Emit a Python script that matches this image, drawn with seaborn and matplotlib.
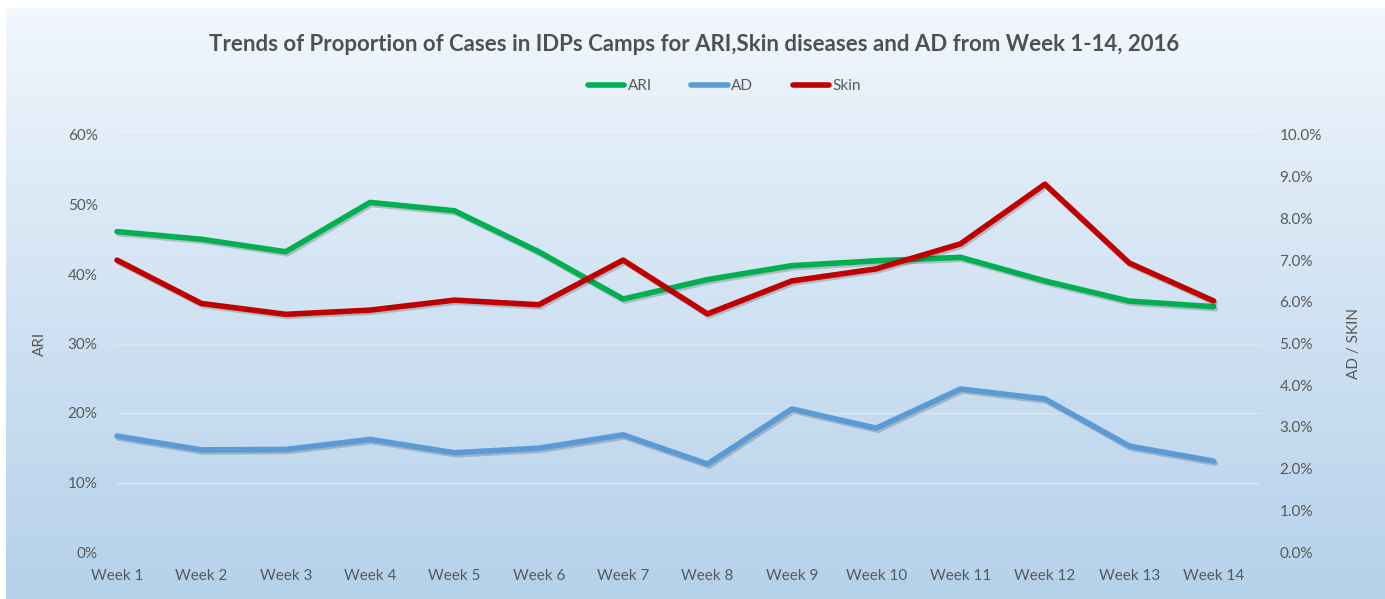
import matplotlib
matplotlib.use('Agg')
import matplotlib.pyplot as plt
import matplotlib.patheffects as pe
from matplotlib.ticker import PercentFormatter
from matplotlib.lines import Line2D
import numpy as np
import pandas as pd
import seaborn as sns

# data
weeks = ['Week 1', 'Week 2', 'Week 3', 'Week 4', 'Week 5', 'Week 6', 'Week 7',
         'Week 8', 'Week 9', 'Week 10', 'Week 11', 'Week 12', 'Week 13', 'Week 14']
ari = [46.1, 45.0, 43.2, 50.3, 49.1, 43.2, 36.4, 39.2, 41.2, 41.9, 42.4, 39.0, 36.1, 35.3]
ad = [2.78, 2.45, 2.46, 2.70, 2.38, 2.49, 2.81, 2.11, 3.43, 2.97, 3.91, 3.67, 2.54, 2.18]
skin = [7.00, 5.96, 5.70, 5.80, 6.04, 5.93, 7.00, 5.71, 6.50, 6.79, 7.39, 8.82, 6.93, 6.02]

df = pd.DataFrame({'Week': weeks, 'ARI': ari, 'AD': ad, 'Skin': skin})

GREEN = '#00b050'
BLUE = '#5b9bd5'
RED = '#c00000'
GREY = '#595959'

sns.set_style('white')
plt.rcParams['font.family'] = ['Lato', 'DejaVu Sans']

fig = plt.figure(figsize=(13.85, 5.99), dpi=100)

# gradient background
bg = fig.add_axes([0.004, 0, 0.996, 1 - 8 / 599], zorder=-5)
grad = np.linspace(0, 1, 256).reshape(-1, 1)
top = np.array([0.95, 0.97, 0.99])
bottom = np.array([0.71, 0.82, 0.92])
img = top + (bottom - top) * grad[..., None] ** 0.9
bg.imshow(img, aspect='auto', extent=[0, 1, 0, 1], origin='upper')
bg.axis('off')

ax = fig.add_axes([117 / 1385, 1 - 552 / 599, (1260 - 117) / 1385, (552 - 135) / 599])
ax.set_facecolor('none')
ax2 = ax.twinx()

shadow = [pe.SimpleLineShadow(offset=(1.2, -1.5), alpha=0.18), pe.Normal()]

sns.lineplot(data=df, x='Week', y='ARI', ax=ax, color=GREEN, lw=4, sort=False,
             solid_capstyle='round', path_effects=shadow, clip_on=False)
sns.lineplot(data=df, x='Week', y='AD', ax=ax2, color=BLUE, lw=4, sort=False,
             solid_capstyle='round', path_effects=shadow, clip_on=False)
sns.lineplot(data=df, x='Week', y='Skin', ax=ax2, color=RED, lw=4, sort=False,
             solid_capstyle='round', path_effects=shadow, clip_on=False)

ax.set_xlim(0, 13.55)
ax.set_ylim(0, 60)
ax2.set_ylim(0, 10)
ax.set_yticks(np.arange(0, 61, 10))
ax2.set_yticks(np.arange(0, 10.1, 1))
ax.yaxis.set_major_formatter(PercentFormatter(decimals=0))
ax2.yaxis.set_major_formatter(PercentFormatter(decimals=1))

ax.grid(axis='y', color='#dde6f0', lw=1)
ax.set_axisbelow(True)
for a in (ax, ax2):
    for s in a.spines.values():
        s.set_visible(False)
    a.tick_params(length=0, labelsize=11, labelcolor=GREY)
ax.tick_params(axis='y', pad=14)
ax2.tick_params(axis='y', pad=14)
ax.tick_params(axis='x', pad=12)

ax.set_xlabel('')
ax.set_ylabel('ARI', color=GREY, fontsize=11)
ax2.set_ylabel('AD / SKIN', color=GREY, fontsize=11, rotation=90)
ax.yaxis.set_label_coords(-0.061, 0.5)
ax2.yaxis.set_label_coords(1.076, 0.5)

fig.text(0.501, 0.925, 'Trends of Proportion of Cases in IDPs Camps for ARI,Skin diseases and AD from Week 1-14, 2016',
         ha='center', va='center', fontsize=16, fontweight='bold', color='#505050')

handles = [Line2D([], [], color=GREEN, lw=4),
           Line2D([], [], color=BLUE, lw=4),
           Line2D([], [], color=RED, lw=4)]
fig.legend(handles, ['ARI', 'AD', 'Skin'], loc='center', bbox_to_anchor=(0.523, 0.856),
           ncol=3, frameon=False, fontsize=11, labelcolor=GREY,
           handlelength=2.4, handletextpad=0.2, columnspacing=2.6)

fig.savefig('out.png', dpi=100)
